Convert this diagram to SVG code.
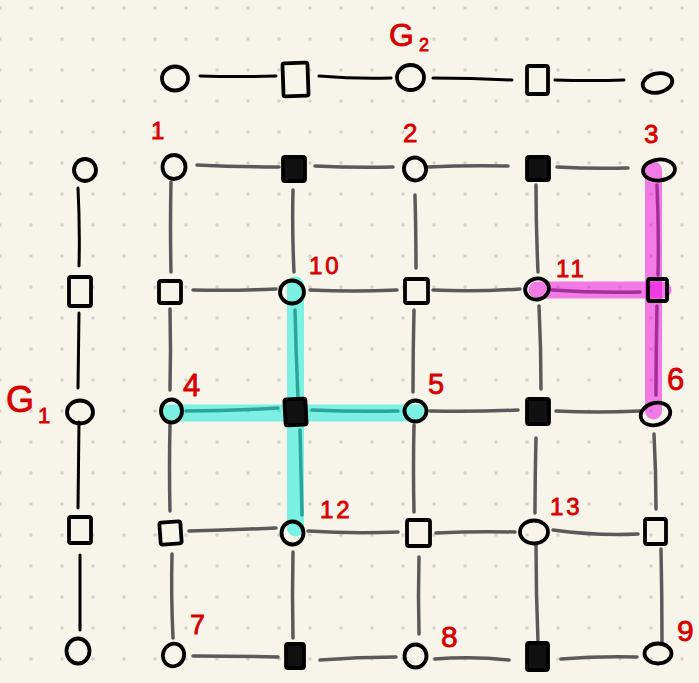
<svg xmlns="http://www.w3.org/2000/svg" width="699" height="683" viewBox="0 0 699 683">
<style>
.c{fill:none;stroke:#000;stroke-width:3.8}
.s{fill:none;stroke:#000;stroke-width:3.8;stroke-linejoin:round}
.f{fill:#111;stroke:#000;stroke-width:3.8;stroke-linejoin:round}
.e{fill:none;stroke:#5a5a5a;stroke-width:3.5;stroke-linecap:round}
.b{fill:none;stroke:#000;stroke-width:3;stroke-linecap:round}
.hc{fill:none;stroke:#00ebdc;stroke-opacity:0.5;stroke-width:17;stroke-linecap:round}
.hm{fill:none;stroke:#ee00e0;stroke-opacity:0.5;stroke-width:17;stroke-linecap:round}
.l{fill:#d80000;stroke:#d80000;stroke-width:0.8;font-family:"Liberation Sans",Arial,sans-serif;font-size:26px;letter-spacing:3px}
</style>
<defs>
<pattern id="dots" x="-15.5" y="-7.5" width="31" height="31" patternUnits="userSpaceOnUse">
<circle cx="15.5" cy="15.5" r="1.7" fill="#cfcec6"/>
</pattern>
</defs>
<rect width="699" height="683" fill="#f7f5ea"/>
<rect width="699" height="683" fill="url(#dots)"/>

<g id="connectors">
<!-- G2 path -->
<path class="b" d="M200,76 Q238,77 276,76"/>
<path class="b" d="M319,76 Q355,79 391,78"/>
<path class="b" d="M433,78 Q472,78 512,80"/>
<path class="b" d="M555,80 Q590,81 624,80"/>
<!-- G1 path -->
<path class="b" d="M78,188 Q80,228 79,266"/>
<path class="b" d="M79,313 L78,388"/>
<path class="b" d="M79,422 L78,508"/>
<path class="b" d="M80,555 L80,630"/>
<!-- grid horizontal -->
<path class="e" d="M197,165 Q238,167 279,167"/>
<path class="e" d="M315,166 Q355,168 393,167"/>
<path class="e" d="M428,167 Q468,165 508,166"/>
<path class="e" d="M557,167 Q592,169 628,168"/>
<path class="e" d="M193,290 Q234,291 276,289"/>
<path class="e" d="M310,290 Q353,292 397,290"/>
<path class="e" d="M433,290 Q476,292 520,289"/>
<path class="e" d="M552,290 Q596,293 640,292"/>
<path class="e" d="M186,411 Q232,411 278,408"/>
<path class="e" d="M312,410 Q355,412 398,411"/>
<path class="e" d="M430,411 Q474,412 518,410"/>
<path class="e" d="M556,411 Q598,413 640,411"/>
<path class="e" d="M189,531 Q232,530 276,528"/>
<path class="e" d="M308,531 Q353,534 398,532"/>
<path class="e" d="M436,533 Q476,531 515,532"/>
<path class="e" d="M553,530 Q596,536 638,534"/>
<path class="e" d="M193,656 Q236,656 278,657"/>
<path class="e" d="M320,660 Q358,657 396,657"/>
<path class="e" d="M435,659 Q472,656 509,660"/>
<path class="e" d="M561,659 Q599,656 637,657"/>
<!-- grid vertical -->
<path class="e" d="M171,182 Q170,227 171,272"/>
<path class="e" d="M170,309 Q171,350 170,390"/>
<path class="e" d="M170,425 Q169,468 170,511"/>
<path class="e" d="M172,554 Q171,597 173,638"/>
<path class="e" d="M293,190 Q292,231 294,272"/>
<path class="e" d="M295,310 Q296,354 298,398"/>
<path class="e" d="M300,430 Q301,473 302,515"/>
<path class="e" d="M293,552 Q292,595 293,638"/>
<path class="e" d="M415,195 Q416,232 416,268"/>
<path class="e" d="M414,310 Q413,351 413,392"/>
<path class="e" d="M414,425 Q413,469 414,512"/>
<path class="e" d="M419,557 Q418,596 419,634"/>
<path class="e" d="M536,185 Q536,228 538,272"/>
<path class="e" d="M539,306 Q541,348 541,389"/>
<path class="e" d="M536,438 Q535,476 535,513"/>
<path class="e" d="M536,544 Q536,593 538,642"/>
<path class="e" d="M657,185 Q659,230 658,275"/>
<path class="e" d="M657,306 Q656,350 656,395"/>
<path class="e" d="M654,434 Q656,472 656,509"/>
<path class="e" d="M661,549 Q662,596 662,643"/>
</g>

<g id="highlights">
<path class="hc" d="M295.5,285 L295.5,528"/>
<path class="hc" d="M169,413 L418,413"/>
<path class="hm" d="M653.5,170 L653.5,411"/>
<path class="hm" d="M537,290 L663,290"/>
</g>

<!-- G2 nodes -->
<g id="g2-a"><ellipse class="c" cx="175" cy="78.5" rx="13" ry="12"/></g>
<g id="g2-b"><rect class="s" x="283" y="63" width="25" height="33" rx="2" transform="rotate(-2 295.5 79.5)"/></g>
<g id="g2-c"><ellipse class="c" cx="410.5" cy="77.5" rx="13.5" ry="12.5"/></g>
<g id="g2-d"><rect class="s" x="527" y="66" width="21" height="28" rx="2"/></g>
<g id="g2-e"><ellipse class="c" cx="657.5" cy="83" rx="15" ry="9.5" transform="rotate(-12 657.5 83)"/></g>
<g id="g2-label"><text class="l" x="389" y="46" style="font-size:32px;letter-spacing:0">G</text><text class="l" x="419" y="51" style="font-size:18px">2</text></g>

<!-- G1 nodes -->
<g id="g1-a"><ellipse class="c" cx="85" cy="170" rx="11" ry="11"/></g>
<g id="g1-b"><rect class="s" x="69" y="277" width="22" height="29" rx="2"/></g>
<g id="g1-c"><ellipse class="c" cx="80" cy="412" rx="13" ry="11.5"/></g>
<g id="g1-d"><rect class="s" x="69" y="517" width="22" height="26" rx="2"/></g>
<g id="g1-e"><ellipse class="c" cx="78" cy="651" rx="11.5" ry="12.5"/></g>
<g id="g1-label"><text class="l" x="6" y="412" style="font-size:36px;letter-spacing:0">G</text><text class="l" x="38" y="423" style="font-size:22px;letter-spacing:0">1</text></g>

<!-- grid row 1 -->
<g id="n1"><ellipse class="c" cx="174" cy="167" rx="11.5" ry="12"/><text class="l" x="151" y="139" style="font-size:24px">1</text></g>
<g id="s12"><rect class="f" x="283" y="157" width="22" height="24" rx="2"/></g>
<g id="n2"><ellipse class="c" cx="415" cy="169" rx="11" ry="11.5" transform="rotate(-20 415 169)"/><text class="l" x="403" y="142">2</text></g>
<g id="s14"><rect class="f" x="527" y="157" width="22" height="23" rx="2"/></g>
<g id="n3"><ellipse class="c" cx="659" cy="170" rx="16" ry="10.5" transform="rotate(-5 659 170)"/><text class="l" x="644" y="143">3</text></g>

<!-- grid row 2 -->
<g id="s21"><rect class="s" x="159" y="281" width="22" height="22" rx="2"/></g>
<g id="n10"><ellipse class="c" cx="292" cy="292" rx="12" ry="11.5"/><text class="l" x="309" y="274" style="font-size:24px">10</text></g>
<g id="s23"><rect class="s" x="405" y="279" width="23" height="24" rx="2"/></g>
<g id="n11"><ellipse class="c" cx="537" cy="289" rx="12" ry="10.5" transform="rotate(-15 537 289)"/><text class="l" x="556" y="277" style="font-size:24px">11</text></g>
<g id="s25"><rect class="s" x="648" y="279" width="19" height="22" rx="2"/></g>

<!-- grid row 3 -->
<g id="n4"><ellipse class="c" cx="171.5" cy="411" rx="10.5" ry="11.5"/><text class="l" x="183" y="396" style="font-size:31px">4</text></g>
<g id="s32"><rect class="f" x="285" y="399" width="21" height="26" rx="2" transform="rotate(-3 295.5 412)"/></g>
<g id="n5"><ellipse class="c" cx="415.5" cy="411" rx="11" ry="10.5"/><text class="l" x="428" y="394" style="font-size:29px">5</text></g>
<g id="s34"><rect class="f" x="527" y="399" width="22" height="25" rx="2"/></g>
<g id="n6"><ellipse class="c" cx="655.5" cy="414" rx="15" ry="11" transform="rotate(-15 655.5 414)"/><text class="l" x="667" y="390" style="font-size:31px">6</text></g>

<!-- grid row 4 -->
<g id="s41"><rect class="s" x="160" y="522" width="21" height="22" rx="2" transform="rotate(-4 170.5 533)"/></g>
<g id="n12"><ellipse class="c" cx="292.5" cy="533" rx="11" ry="11.5"/><text class="l" x="320" y="518" style="font-size:24px">12</text></g>
<g id="s43"><rect class="s" x="407" y="520" width="23" height="26" rx="2"/></g>
<g id="n13"><ellipse class="c" cx="534" cy="532" rx="14" ry="11.5"/><text class="l" x="550" y="515" style="font-size:24px">13</text></g>
<g id="s45"><rect class="s" x="645" y="519" width="21" height="25" rx="2"/></g>

<!-- grid row 5 -->
<g id="n7"><ellipse class="c" cx="173.5" cy="655" rx="10.5" ry="11.5" transform="rotate(20 173.5 655)"/><text class="l" x="190" y="634" style="font-size:27px">7</text></g>
<g id="s52"><rect class="f" x="286" y="644" width="18" height="24" rx="2"/></g>
<g id="n8"><ellipse class="c" cx="415.5" cy="656" rx="11" ry="11.5"/><text class="l" x="441" y="647" style="font-size:30px">8</text></g>
<g id="s54"><rect class="f" x="527" y="643" width="21" height="27" rx="2"/></g>
<g id="n9"><ellipse class="c" cx="658" cy="653.5" rx="13.5" ry="10"/><text class="l" x="677" y="641" style="font-size:30px">9</text></g>
</svg>
